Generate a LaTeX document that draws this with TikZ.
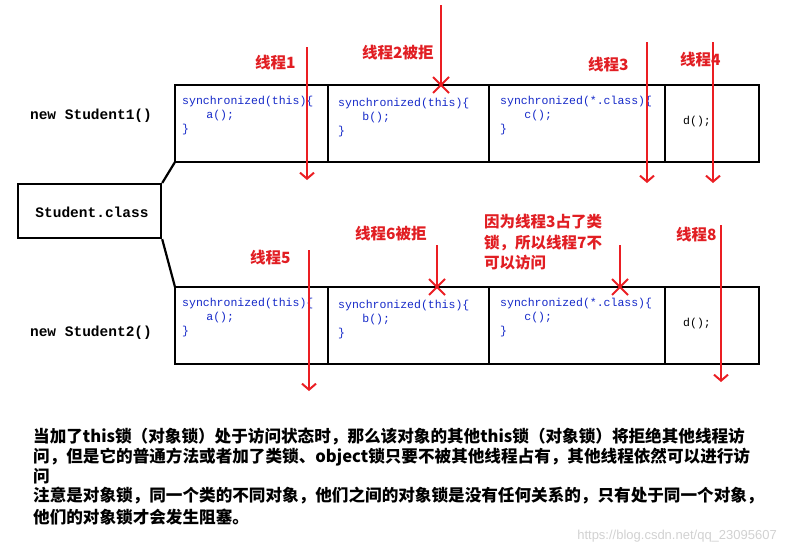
\documentclass[tikz,border=0pt]{standalone}
\usepackage{fontspec}
\setmonofont{Liberation Mono}
\newfontfamily\cjk{Noto Sans CJK SC}
\begin{document}
\begin{tikzpicture}[x=1pt,y=-1pt,
 box/.style={draw=black,line width=2.2pt},
 red/.style={draw={rgb,255:red,235;green,30;blue,35},line width=2pt},
 arr/.style={red,-{Straight Barb[length=6pt,width=14pt,line width=2pt]}},
 lbl/.style={text={rgb,255:red,225;green,30;blue,35},font=\cjk\bfseries\fontsize{15.5}{18}\selectfont,anchor=west,inner sep=0pt},
 code/.style={text={rgb,255:red,20;green,40;blue,200},font=\ttfamily\fontsize{11.5}{14}\selectfont,align=left,anchor=north west,inner sep=0pt},
 obj/.style={font=\ttfamily\bfseries\fontsize{14.5}{16}\selectfont,inner sep=0pt},
 desc/.style={font=\cjk\bfseries\fontsize{16.6}{18}\selectfont,anchor=west,inner sep=0pt}]
\useasboundingbox (0,0) rectangle (785,554);
\usetikzlibrary{arrows.meta}
% rows
\foreach \y/\n in {85/t,287/b}{
 \draw[box] (175,\y) rectangle (759,\y+77);
 \foreach \x in {328,489,665} \draw[box] (\x,\y) -- (\x,\y+77);
}
\node[box,minimum width=143pt,minimum height=54pt,anchor=north west,inner sep=0pt] (cls) at (17,183) {};
\node[obj] at (92,212) {Student.class};
\draw[box] (cls.north east) -- (175,162);
\draw[box] (cls.south east) -- (175,287);
\node[obj] (s1) at (91,116) {new Student1()};
\node[obj] (s2) at (91,333) {new Student2()};
% code
\foreach \y in {96,298}{
 \node[code] at (182,\y) {synchronized(this)\{\\\hspace*{2.1em}a();\\\}};
 \node[code] at (338,\y+2) {synchronized(this)\{\\\hspace*{2.1em}b();\\\}};
 \node[code] at (500,\y) {synchronized(*.class)\{\\\hspace*{2.1em}c();\\\}};
 \node[obj,font=\ttfamily\fontsize{11.5}{14}\selectfont] at (697,\y+26) {d();};
}
% arrows top
\draw[arr] (307,47) -- (307,180);
\draw[arr] (647,42) -- (647,183);
\draw[arr] (713,42) -- (713,183);
\draw[red] (441,5) -- (441,85);
\draw[red] (433,77) -- (449,93) (449,77) -- (433,93);
% arrows bottom
\draw[arr] (309,250) -- (309,391);
\draw[arr] (721,225) -- (721,382);
\draw[red] (437,245) -- (437,287);
\draw[red] (429,279) -- (445,295) (445,279) -- (429,295);
\draw[red] (620,245) -- (620,287);
\draw[red] (612,279) -- (628,295) (628,279) -- (612,295);
% labels
\node[lbl] at (255,63) {线程1};
\node[lbl] at (362,53) {线程2被拒};
\node[lbl] at (588,65) {线程3};
\node[lbl] at (680,60) {线程4};
\node[lbl] at (250,258) {线程5};
\node[lbl] at (355,234) {线程6被拒};
\node[lbl,align=left,anchor=north west,font=\cjk\bfseries\fontsize{15.5}{20.5}\selectfont] at (484,214) {因为线程3占了类\\锁，所以线程7不\\可以访问};
\node[lbl] at (676,235) {线程8};
% description
\node[desc] at (33,437) {当加了this锁（对象锁）处于访问状态时，那么该对象的其他this锁（对象锁）将拒绝其他线程访};
\node[desc] at (33,457) {问，但是它的普通方法或者加了类锁、object锁只要不被其他线程占有，其他线程依然可以进行访};
\node[desc] at (33,476) {问};
\node[desc] at (33,496) {注意是对象锁，同一个类的不同对象，他们之间的对象锁是没有任何关系的，只有处于同一个对象，};
\node[desc] at (33,517) {他们的对象锁才会发生阻塞。};
\node[anchor=east,text=black!18,font=\fontspec{Liberation Sans}\fontsize{13}{14}\selectfont,inner sep=0pt] at (777,536) {https://blog.csdn.net/qq\_23095607};
\end{tikzpicture}
\end{document}
